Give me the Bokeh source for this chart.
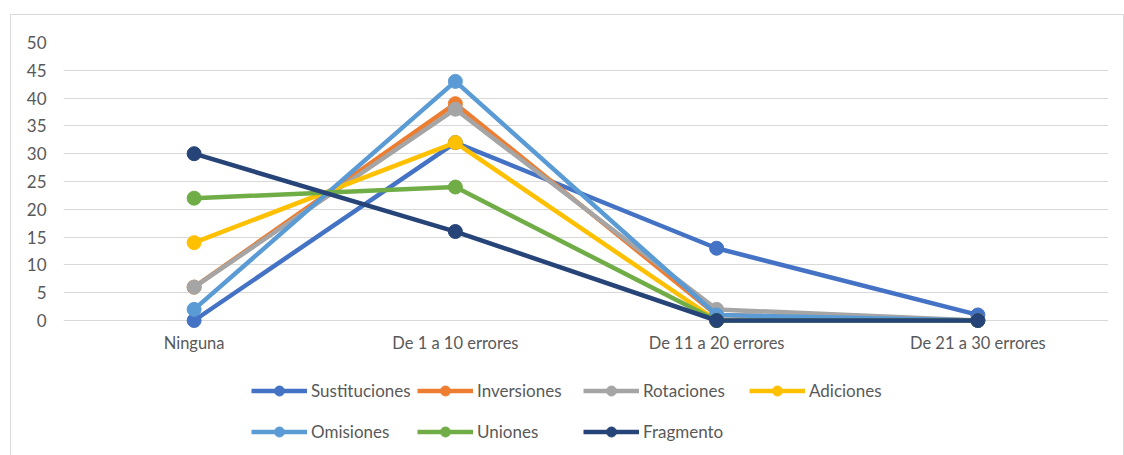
from bokeh.plotting import figure
from bokeh.models import FactorRange, Range1d, Legend, LegendItem, FixedTicker
from bokeh.layouts import column
from bokeh.embed import file_html
from bokeh.resources import INLINE

categories = ["Ninguna", "De 1 a 10 errores", "De 11 a 20 errores", "De 21 a 30 errores"]
series_names = ["Sustituciones", "Inversiones", "Rotaciones", "Adiciones",
                "Omisiones", "Uniones", "Fragmento"]
sustituciones = [0, 32, 13, 1]
inversiones = [6, 39, 1, 0]
rotaciones = [6, 38, 2, 0]
adiciones = [14, 32, 0, 0]
omisiones = [2, 43, 1, 0]
uniones = [22, 24, 0, 0]
fragmento = [30, 16, 0, 0]
y_ticks = [0, 5, 10, 15, 20, 25, 30, 35, 40, 45, 50]

series_values = [sustituciones, inversiones, rotaciones, adiciones, omisiones, uniones, fragmento]
colors = ["#4472C4", "#ED7D31", "#A5A5A5", "#FFC000", "#5B9BD5", "#70AD47", "#264478"]

FONT = "Lato"
FS = "17px"
TXT = "#595959"

# main chart
p = figure(x_range=FactorRange(*categories, range_padding=0), y_range=Range1d(-1.4388, 50),
           width=1112, height=353, output_backend="svg", toolbar_location=None,
           min_border_left=52, min_border_right=15, min_border_top=27, min_border_bottom=40)
p.outline_line_color = None
p.xgrid.grid_line_color = None
p.ygrid.grid_line_color = "#d9d9d9"
p.ygrid.grid_line_width = 1
p.yaxis.ticker = FixedTicker(ticks=y_ticks)
for ax in (p.xaxis[0], p.yaxis[0]):
    ax.axis_line_color = None
    ax.major_tick_line_color = None
    ax.minor_tick_line_color = None
    ax.major_label_text_font = FONT
    ax.major_label_text_font_size = FS
    ax.major_label_text_color = TXT
p.xaxis.major_label_text_font_size = "16.5px"
p.yaxis.major_label_standoff = 11
p.xaxis.major_label_standoff = -2

for name, vals, col in zip(series_names, series_values, colors):
    p.line(categories, vals, line_color=col, line_width=4.5)
    p.scatter(categories, vals, size=14, fill_color=col, line_color=col)

# legend panel (its own figure below the chart)
p2 = figure(x_range=Range1d(0, 1), y_range=Range1d(0, 1), width=1112, height=87,
            output_backend="svg", toolbar_location=None,
            x_axis_location=None, y_axis_location=None,
            min_border_left=0, min_border_right=0, min_border_top=0, min_border_bottom=0)
p2.outline_line_color = None
p2.xgrid.grid_line_color = None
p2.ygrid.grid_line_color = None

items = []
for name, col in zip(series_names, colors):
    l = p2.line([5, 6], [5, 6], line_color=col, line_width=4.5)
    s = p2.scatter([5], [5], size=14, fill_color=col, line_color=col)
    items.append(LegendItem(label=name, renderers=[l, s]))

common = dict(orientation="horizontal", glyph_width=56, glyph_height=25, label_width=100,
              label_standoff=4, spacing=6, padding=0, margin=0, border_line_color=None,
              background_fill_alpha=0, label_text_font=FONT, label_text_font_size=FS,
              label_text_color=TXT)
leg1 = Legend(items=items[:4], location=(188, 52), **common)
leg2 = Legend(items=items[4:], location=(188, 11), **common)
p2.add_layout(leg1, "center")
p2.add_layout(leg2, "center")

layout = column(p, p2, spacing=0,
                styles={"border": "1px solid #d9d9d9", "margin-left": "10px", "margin-top": "14px"})

open("out.html", "w").write(file_html(layout, INLINE))
